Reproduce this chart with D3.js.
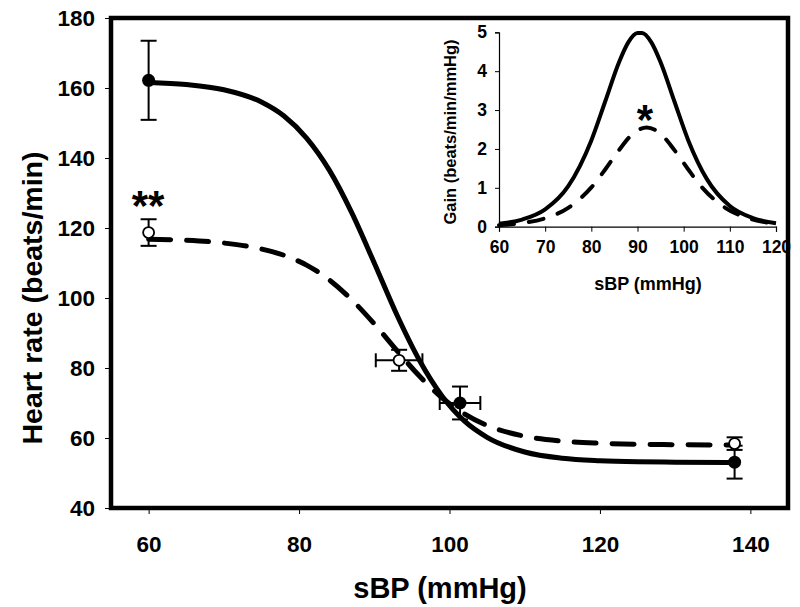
<!DOCTYPE html>
<html><head><meta charset="utf-8">
<script src="https://cdn.jsdelivr.net/npm/d3@7"></script>
<style>
html,body{margin:0;padding:0;background:#fff;}
svg{display:block;font-family:"Liberation Sans",Arial,sans-serif;}
</style></head>
<body><svg id="c" width="800" height="607"></svg>
<script>
// ---- main chart data ----
const xTicks = [60, 80, 100, 120, 140];
const yTicks = [40, 60, 80, 100, 120, 140, 160, 180];
const curveX = [60, 65, 70, 75, 78, 81, 84, 87, 90, 93, 96, 99, 102, 105, 110, 115, 120, 125, 130, 138];
const solidHR = [161.6, 161.0, 159.5, 156.0, 152.0, 145.7, 136.6, 124.4, 110.0, 95.2, 82.2, 72.0, 64.8, 60.2, 56.0, 54.2, 53.5, 53.2, 53.1, 53.0];
const dashedHR = [116.8, 116.5, 115.7, 114.0, 112.2, 109.4, 105.2, 99.5, 92.6, 85.0, 77.7, 71.5, 66.9, 63.6, 60.5, 59.1, 58.5, 58.2, 58.1, 58.0];
const filledX = [60, 101.4, 137.9];
const filledY = [162.2, 70.0, 53.1];
const filledYErr = [11.3, 4.7, 4.7];
const filledXErr = [0, 2.7, 0];
const openX = [60, 93.3, 137.9];
const openY = [118.7, 82.2, 58.4];
const openYErr = [3.8, 3.0, 1.8];
const openXErr = [0, 3.1, 0];
// ---- inset data ----
const insetXTicks = [60, 70, 80, 90, 100, 110, 120];
const insetYTicks = [0, 1, 2, 3, 4, 5];
const gainXSolid = [60, 65, 70, 75, 80, 83, 86, 88, 90, 91, 93, 95, 98, 101, 105, 110, 115, 120];
const gainSolid = [0.075, 0.184, 0.447, 1.043, 2.22, 3.22, 4.23, 4.74, 4.98, 4.98, 4.74, 4.23, 3.22, 2.22, 1.23, 0.53, 0.22, 0.09];
const gainXDashed = [60, 65, 70, 75, 80, 83, 86, 89, 92, 95, 98, 101, 104, 109, 114, 120];
const gainDashed = [0.04, 0.094, 0.217, 0.486, 1.01, 1.47, 1.97, 2.39, 2.55, 2.39, 1.97, 1.47, 1.01, 0.486, 0.217, 0.079];

const svg = d3.select("#c");
const FONT = '"Liberation Sans",Arial,sans-serif';

// main scales
const x = d3.scaleLinear().domain([55, 145]).range([111, 788]);
const y = d3.scaleLinear().domain([40, 180]).range([508, 18]);

// axes
const yAxis = d3.axisLeft(y).tickValues(yTicks).tickSize(6).tickPadding(10).tickFormat(d3.format("d"));
const gy = svg.append("g").attr("transform", "translate(111,0)").call(yAxis);
gy.select(".domain").remove();
gy.selectAll("line").attr("stroke", "#000").attr("stroke-width", 1);
gy.selectAll("text").attr("font-size", 22.5).attr("font-weight", "bold").attr("fill", "#000").attr("font-family", FONT);

const xAxis = d3.axisBottom(x).tickValues(xTicks).tickSize(6).tickPadding(22).tickFormat(d3.format("d"));
const gx = svg.append("g").attr("transform", "translate(0,508)").call(xAxis);
gx.select(".domain").remove();
gx.selectAll("line").attr("stroke", "#000").attr("stroke-width", 1);
gx.selectAll("text").attr("font-size", 22.5).attr("font-weight", "bold").attr("fill", "#000").attr("font-family", FONT);

svg.append("text").attr("x", 440).attr("y", 598).attr("text-anchor", "middle")
  .attr("font-size", 29).attr("font-weight", "bold").attr("font-family", FONT).text("sBP (mmHg)");
svg.append("text").attr("transform", "translate(42,298) rotate(-90)").attr("text-anchor", "middle")
  .attr("font-size", 28.5).attr("font-weight", "bold").attr("font-family", FONT).text("Heart rate (beats/min)");

// main curves
const mainLine = (ys) => d3.line().x((d, i) => x(curveX[i])).y(d => y(d)).curve(d3.curveMonotoneX)(ys);
svg.append("path").attr("d", mainLine(dashedHR)).attr("fill", "none").attr("stroke", "#000")
  .attr("stroke-width", 5).attr("stroke-dasharray", "22,16").attr("stroke-linecap", "round");
svg.append("path").attr("d", mainLine(solidHR)).attr("fill", "none").attr("stroke", "#000")
  .attr("stroke-width", 5);

// error bars
function errBars(xs, ys, yes, xes) {
  const g = svg.append("g").attr("stroke", "#000").attr("stroke-width", 2);
  xs.forEach((xv, i) => {
    const cx = x(xv), cy = y(ys[i]);
    const y1 = y(ys[i] + yes[i]), y2 = y(ys[i] - yes[i]);
    g.append("line").attr("x1", cx).attr("x2", cx).attr("y1", y1).attr("y2", y2);
    g.append("line").attr("x1", cx - 8).attr("x2", cx + 8).attr("y1", y1).attr("y2", y1);
    g.append("line").attr("x1", cx - 8).attr("x2", cx + 8).attr("y1", y2).attr("y2", y2);
    if (xes[i] > 0) {
      const x1 = x(xv - xes[i]), x2 = x(xv + xes[i]);
      g.append("line").attr("x1", x1).attr("x2", x2).attr("y1", cy).attr("y2", cy);
      g.append("line").attr("x1", x1).attr("x2", x1).attr("y1", cy - 7).attr("y2", cy + 7);
      g.append("line").attr("x1", x2).attr("x2", x2).attr("y1", cy - 7).attr("y2", cy + 7);
    }
  });
}
errBars(openX, openY, openYErr, openXErr);
errBars(filledX, filledY, filledYErr, filledXErr);

svg.append("g").selectAll("circle").data(openX).join("circle")
  .attr("cx", d => x(d)).attr("cy", (d, i) => y(openY[i])).attr("r", 5.5)
  .attr("fill", "#fff").attr("stroke", "#000").attr("stroke-width", 1.8);
svg.append("g").selectAll("circle").data(filledX).join("circle")
  .attr("cx", d => x(d)).attr("cy", (d, i) => y(filledY[i])).attr("r", 6.5).attr("fill", "#000");

svg.append("text").attr("x", 148).attr("y", 220).attr("text-anchor", "middle")
  .attr("font-size", 42).attr("font-weight", "bold").attr("font-family", FONT).text("**");

// ---- inset ----
const ix = d3.scaleLinear().domain([60, 120]).range([499, 776]);
const iy = d3.scaleLinear().domain([0, 5]).range([226.7, 32.3]);

const iyAxis = d3.axisLeft(iy).tickValues(insetYTicks).tickSize(4).tickPadding(8).tickFormat(d3.format("d"));
const igy = svg.append("g").attr("transform", "translate(499,0)").call(iyAxis);
igy.select(".domain").attr("stroke", "#000").attr("stroke-width", 1.2);
igy.selectAll("line").attr("stroke", "#000");
igy.selectAll("text").attr("font-size", 17.5).attr("font-weight", "bold").attr("fill", "#000").attr("font-family", FONT);

const ixAxis = d3.axisBottom(ix).tickValues(insetXTicks).tickSize(5).tickPadding(9).tickFormat(d3.format("d"));
const igx = svg.append("g").attr("transform", "translate(0,226.7)").call(ixAxis);
igx.select(".domain").attr("stroke", "#000").attr("stroke-width", 1.2);
igx.selectAll("line").attr("stroke", "#000");
igx.selectAll("text").attr("font-size", 17.5).attr("font-weight", "bold").attr("fill", "#000").attr("font-family", FONT);

svg.append("text").attr("x", 648).attr("y", 290).attr("text-anchor", "middle")
  .attr("font-size", 18).attr("font-weight", "bold").attr("font-family", FONT).text("sBP (mmHg)");
svg.append("text").attr("transform", "translate(456,132) rotate(-90)").attr("text-anchor", "middle")
  .attr("font-size", 16.5).attr("font-weight", "bold").attr("font-family", FONT).text("Gain (beats/min/mmHg)");

const insetLine = (xs, ys) => d3.line().x((d, i) => ix(xs[i])).y(d => iy(d)).curve(d3.curveMonotoneX)(ys);
svg.append("path").attr("d", insetLine(gainXDashed, gainDashed)).attr("fill", "none").attr("stroke", "#000")
  .attr("stroke-width", 4).attr("stroke-dasharray", "15,15").attr("stroke-linecap", "round");
svg.append("path").attr("d", insetLine(gainXSolid, gainSolid)).attr("fill", "none").attr("stroke", "#000")
  .attr("stroke-width", 4);

svg.append("text").attr("x", 645).attr("y", 134).attr("text-anchor", "middle")
  .attr("font-size", 42).attr("font-weight", "bold").attr("font-family", FONT).text("*");

// frame drawn last
svg.append("rect").attr("x", x(55)).attr("y", y(180)).attr("width", x(145) - x(55)).attr("height", y(40) - y(180))
  .attr("fill", "none").attr("stroke", "#000").attr("stroke-width", 4.5);
</script></body></html>
